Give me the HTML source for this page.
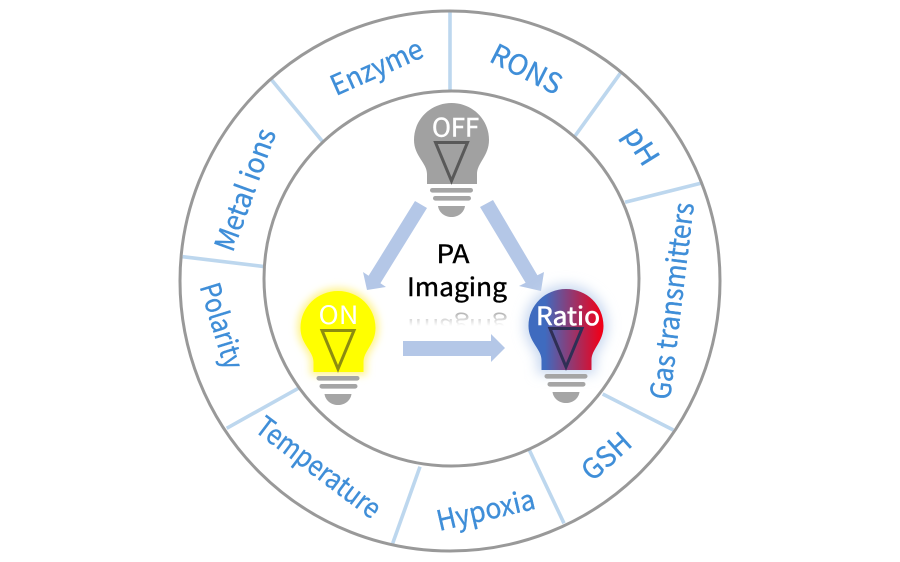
<!DOCTYPE html>
<html><head><meta charset="utf-8"><style>html,body{margin:0;padding:0;background:#fff}svg{display:block}</style></head><body>
<svg width="900" height="562" viewBox="0 0 900 562" xmlns="http://www.w3.org/2000/svg">
<defs>
<linearGradient id="rb" gradientUnits="userSpaceOnUse" x1="414" y1="0" x2="489" y2="0"><stop offset="0.22" stop-color="#3f6bbf"/><stop offset="0.97" stop-color="#f00019"/></linearGradient>
<linearGradient id="fade" gradientUnits="userSpaceOnUse" x1="0" y1="-326" x2="0" y2="-313"><stop offset="0" stop-color="#fff"/><stop offset="1" stop-color="#b5b5b5"/></linearGradient>
<filter id="g1" x="-30%" y="-30%" width="160%" height="160%"><feGaussianBlur stdDeviation="4"/></filter>
<filter id="g2" x="-30%" y="-30%" width="160%" height="160%"><feGaussianBlur stdDeviation="6"/></filter>
<path id="b" d="M427 184V174C427 163 414 156 414 140C414 119 431 103 451.5 103C472 103 489 119 489 140C489 156 477 163 477 174V184Z"/>
<g id="base" fill="#a5a5a5"><rect x="430" y="188" width="43" height="4.6" rx="2.3"/><rect x="433" y="196" width="38" height="4.6" rx="2.3"/><path d="M438 206H465C464 213 458 217 451.5 217C445 217 439 213 438 206Z"/></g>
</defs>
<rect width="900" height="562" fill="#fff"/>
<g stroke="#bdd7ee" stroke-width="3.6" fill="none">
<line x1="450" y1="10" x2="450" y2="92"/>
<line x1="271.7" y1="80" x2="322.7" y2="141.7"/>
<line x1="182.7" y1="256.7" x2="265" y2="266.7"/>
<line x1="620.7" y1="72.7" x2="575" y2="136"/>
<line x1="700.7" y1="183.3" x2="625" y2="202.3"/>
<line x1="226.7" y1="428.3" x2="298.3" y2="388.3"/>
<line x1="420" y1="466.7" x2="392.7" y2="543.3"/>
<line x1="673.3" y1="430" x2="602.7" y2="394"/>
<line x1="564" y1="523.3" x2="529.3" y2="450"/>
</g>
<circle cx="450" cy="281" r="270" fill="none" stroke="#999" stroke-width="3"/>
<circle cx="451.5" cy="278.5" r="187.5" fill="none" stroke="#999" stroke-width="3"/>
<g font-family="'Noto Sans CJK SC','Liberation Sans',sans-serif" font-size="28" fill="#3f8ed8" stroke="#3f8ed8" stroke-width="0.35" text-anchor="middle">
<text transform="translate(377 68) rotate(-24)" y="9" textLength="98" lengthAdjust="spacingAndGlyphs">Enzyme</text>
<text transform="translate(246 190) rotate(-70)" y="9" textLength="128" lengthAdjust="spacingAndGlyphs">Metal ions</text>
<text transform="translate(526 70) rotate(27)" y="9" textLength="76" lengthAdjust="spacingAndGlyphs">RONS</text>
<text transform="translate(640 147) rotate(58)" y="8" textLength="40" lengthAdjust="spacingAndGlyphs">pH</text>
<text transform="translate(673 301) rotate(-83)" y="9" textLength="198" lengthAdjust="spacingAndGlyphs">Gas transmitters</text>
<text transform="translate(607 457) rotate(-42)" y="9" textLength="56" lengthAdjust="spacingAndGlyphs">GSH</text>
<text transform="translate(486 511) rotate(-13)" y="9" textLength="100" lengthAdjust="spacingAndGlyphs">Hypoxia</text>
<text transform="translate(318 468) rotate(37)" y="9" textLength="148" lengthAdjust="spacingAndGlyphs">Temperature</text>
<text transform="translate(221 326) rotate(73)" y="9" textLength="88" lengthAdjust="spacingAndGlyphs">Polarity</text>
</g>
<g fill="#b4c7e7">
<polygon points="415,201 427,208 380.4,283.2 386,287 367,290 363,272 368.6,275.8"/>
<polygon points="480,207 493,200 537.4,275.3 544,272 541,291 519,286 525.6,282.7"/>
<polygon points="403,341 491,341 491,334 505,348 491,362 491,356 403,356"/>
</g>
<!-- OFF -->
<use href="#b" fill="#a1a1a1"/>
<use href="#base"/>
<polygon points="435.5,142.5 467.5,142.5 451.5,181" fill="none" stroke="#595959" stroke-width="3"/>
<!-- ON -->
<g transform="translate(-113.5 188)">
<use href="#b" fill="#fff38a" stroke="#fff38a" stroke-width="6" filter="url(#g1)"/>
<use href="#b" fill="#ffff00"/>
<use href="#base"/>
<polygon points="435.5,142.5 467.5,142.5 451.5,181" fill="none" stroke="#8c8c10" stroke-width="3"/>
</g>
<!-- Ratio -->
<g transform="translate(114.5 186)">
<use href="#b" fill="#c8d8f0" stroke="#c8d8f0" stroke-width="8" filter="url(#g2)"/>
<use href="#base"/>
<use href="#b" fill="url(#rb)"/>
<polygon points="435.5,142.5 467.5,142.5 451.5,181" fill="none" stroke="#2f2f55" stroke-width="3"/>
</g>
<g font-family="'Noto Sans CJK SC','Liberation Sans',sans-serif" text-anchor="middle">
<text x="455.5" y="136.5" font-size="25" fill="#fff" stroke="#fff" stroke-width="0.5" textLength="47" lengthAdjust="spacingAndGlyphs">OFF</text>
<text x="338.5" y="324" font-size="25" fill="#fff" textLength="40" lengthAdjust="spacingAndGlyphs">ON</text>
<text x="568" y="325" font-size="25" fill="#fff" stroke="#fff" stroke-width="0.6" textLength="64" lengthAdjust="spacingAndGlyphs">Ratio</text>
<text x="453" y="263" font-size="25" fill="#000" stroke="#000" stroke-width="0.4" textLength="33" lengthAdjust="spacingAndGlyphs">PA</text>
<text x="457" y="296" font-size="25" fill="#000" stroke="#000" stroke-width="0.4" textLength="100" lengthAdjust="spacingAndGlyphs">Imaging</text>
<text transform="scale(1 -1)" x="457" y="-319" font-size="25" fill="url(#fade)" textLength="100" lengthAdjust="spacingAndGlyphs">Imaging</text>
</g>
</svg>
</body></html>
